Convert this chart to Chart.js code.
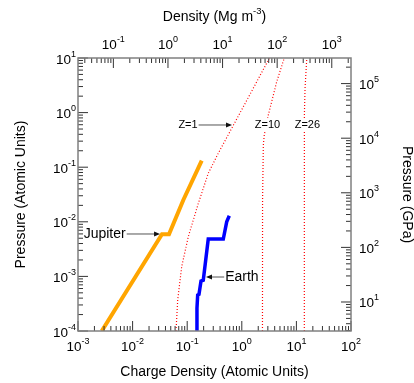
<!DOCTYPE html>
<html>
<head>
<meta charset="utf-8">
<script src="https://cdn.jsdelivr.net/npm/chart.js@4.4.1/dist/chart.umd.min.js"></script>
<style>
  html, body { margin: 0; padding: 0; background: #fff; }
  #chart { display: block; }
</style>
</head>
<body>
<canvas id="chart" width="414" height="383"></canvas>
<script>
// Values: charge density and pressure, both in atomic units
const jupiterCharge   = [0.00272, 0.0345, 0.0464, 0.0849, 0.1845];
const jupiterPressure = [1e-4, 5.9e-3, 5.9e-3, 0.0251, 0.1315];

const earthCharge   = [0.151, 0.151, 0.1556, 0.1644, 0.179, 0.197, 0.243, 0.458, 0.529, 0.590];
const earthPressure = [1e-4, 2.61e-4, 4.56e-4, 4.70e-4, 8.24e-4, 8.49e-4, 4.84e-3, 4.84e-3, 1.0e-2, 1.29e-2];

const z1Charge   = [0.0624, 0.067, 0.0793, 0.1047, 0.160, 0.243, 0.371, 0.629, 1.243, 3.21];
const z1Pressure = [1e-4, 3.70e-4, 1.51e-3, 5.33e-3, 0.0218, 0.0773, 0.180, 0.480, 1.70, 10];

const z10Charge   = [2.39, 2.40, 2.48, 2.58, 3.06, 4.36, 6.0];
const z10Pressure = [1e-4, 0.0251, 0.255, 0.389, 0.904, 3.68, 10];

const z26Charge   = [13.97, 14.0, 14.4, 15.5];
const z26Pressure = [1e-4, 0.90, 2.79, 10];

// axis ranges and major ticks
const chargeRange   = [1e-3, 1e2];
const pressureRange = [1e-4, 1e1];
const chargeTicks   = [1e-3, 1e-2, 1e-1, 1, 10, 100];
const pressureTicks = [1e-4, 1e-3, 1e-2, 1e-1, 1, 10];
const densityTicks  = [0.1, 1, 10, 100, 1000];
const gpaTicks      = [10, 100, 1000, 1e4, 1e5];

// unit conversions for the secondary axes
const MG_M3_PER_AU = 22.5;    // mass density per unit charge density
const GPA_PER_AU = 29421;     // 1 atomic unit of pressure in GPa

const FONT = '"Liberation Sans", Arial, Helvetica, sans-serif';

// labels on the plot, placed in data coordinates
const notes = [
  { text: 'Z=1', size: 11, x: 0.162, y: 0.593, tipX: 0.662, tipY: 0.593, align: 'right' },
  { text: 'Z=10', size: 11, x: 2.96, y: 0.593, align: 'center', blank: true },
  { text: 'Z=26', size: 11, x: 15.9, y: 0.593, align: 'center', blank: true },
  { text: 'Jupiter', size: 14, x: 0.0078, y: 5.98e-3, tipX: 0.0318, tipY: 5.98e-3, align: 'right' },
  { text: 'Earth', size: 14, x: 0.476, y: 9.75e-4, tipX: 0.221, tipY: 9.75e-4, align: 'left' }
];

function pts(xs, ys) {
  return xs.map((x, i) => ({ x: x, y: ys[i] }));
}

function pow10Label(ctx, v, x, y, align) {
  const e = String(Math.round(Math.log10(v)));
  ctx.font = '13.5px ' + FONT;
  const w1 = ctx.measureText('10').width;
  ctx.font = '9px ' + FONT;
  const w2 = ctx.measureText(e).width;
  let x0 = x;
  if (align === 'center') x0 = x - (w1 + w2) / 2;
  else if (align === 'right') x0 = x - w1 - w2;
  ctx.textAlign = 'left';
  ctx.textBaseline = 'alphabetic';
  ctx.font = '13.5px ' + FONT;
  ctx.fillText('10', x0, y);
  ctx.font = '9px ' + FONT;
  ctx.fillText(e, x0 + w1, y - 7);
}

// minor + major tick marks pointing into the plot
function tickMarks(ctx, scale, horizontal, edge, dir) {
  const lo = Math.floor(Math.log10(scale.min));
  const hi = Math.ceil(Math.log10(scale.max));
  for (let k = lo; k <= hi; k++) {
    for (let m = 1; m <= 9; m++) {
      const v = m * Math.pow(10, k);
      if (v < scale.min * 0.999 || v > scale.max * 1.001) continue;
      const p = scale.getPixelForValue(v);
      const len = m === 1 ? 10 : 5;
      ctx.beginPath();
      if (horizontal) {
        ctx.moveTo(p, edge);
        ctx.lineTo(p, edge + dir * len);
      } else {
        ctx.moveTo(edge, p);
        ctx.lineTo(edge + dir * len, p);
      }
      ctx.stroke();
    }
  }
}

const framePlugin = {
  id: 'frame',
  afterDatasetsDraw(chart) {
    const ctx = chart.ctx;
    const a = chart.chartArea;
    const s = chart.scales;
    ctx.save();

    // annotations
    notes.forEach(n => {
      const x = s.x.getPixelForValue(n.x);
      const y = s.y.getPixelForValue(n.y);
      ctx.font = n.size + 'px ' + FONT;
      const w = ctx.measureText(n.text).width;
      let tx = x;
      if (n.align === 'right') tx = x - w - 1;
      else if (n.align === 'center') tx = x - w / 2;
      else tx = x + 1;
      if (n.blank) {
        ctx.fillStyle = '#fff';
        ctx.fillRect(tx - 1, y - n.size * 0.45 - 2, w + 2, n.size * 0.9 + 4);
      }
      ctx.fillStyle = '#000';
      ctx.textAlign = 'left';
      ctx.textBaseline = 'middle';
      ctx.fillText(n.text, tx, y);
      if (n.tipX !== undefined) {
        const px = s.x.getPixelForValue(n.tipX);
        const py = s.y.getPixelForValue(n.tipY);
        const d = px > x ? 1 : -1;
        ctx.strokeStyle = '#555';
        ctx.lineWidth = 1;
        ctx.beginPath();
        ctx.moveTo(x, y);
        ctx.lineTo(px - d * 5, py);
        ctx.stroke();
        ctx.fillStyle = '#111';
        ctx.beginPath();
        ctx.moveTo(px, py);
        ctx.lineTo(px - d * 6, py - 2.5);
        ctx.lineTo(px - d * 6, py + 2.5);
        ctx.closePath();
        ctx.fill();
      }
    });

    // ticks
    ctx.strokeStyle = '#333';
    ctx.lineWidth = 1;
    tickMarks(ctx, s.x, true, a.bottom, -1);
    tickMarks(ctx, s.x2, true, a.top, 1);
    tickMarks(ctx, s.y, false, a.left, 1);
    tickMarks(ctx, s.y2, false, a.right, -1);

    // box
    ctx.strokeStyle = '#808080';
    ctx.lineWidth = 1.5;
    ctx.strokeRect(a.left, a.top, a.right - a.left, a.bottom - a.top);

    // tick labels
    ctx.fillStyle = '#000';
    chargeTicks.forEach(v => pow10Label(ctx, v, s.x.getPixelForValue(v), a.bottom + 20, 'center'));
    densityTicks.forEach(v => pow10Label(ctx, v, s.x2.getPixelForValue(v), a.top - 9, 'center'));
    pressureTicks.forEach(v => pow10Label(ctx, v, a.left - 2, s.y.getPixelForValue(v) + 5.5, 'right'));
    gpaTicks.forEach(v => pow10Label(ctx, v, a.right + 8, s.y2.getPixelForValue(v) + 5.5, 'left'));

    // axis titles
    const cx = (a.left + a.right) / 2;
    const cy = (a.top + a.bottom) / 2;
    ctx.font = '14px ' + FONT;
    ctx.textBaseline = 'alphabetic';
    ctx.textAlign = 'center';
    ctx.fillText('Charge Density (Atomic Units)', cx, a.bottom + 45);

    // top title with superscript
    const t1 = 'Density (Mg m', t2 = '-3', t3 = ')';
    const w1 = ctx.measureText(t1).width, w3 = ctx.measureText(t3).width;
    ctx.font = '9.5px ' + FONT;
    const w2 = ctx.measureText(t2).width;
    let x0 = cx - (w1 + w2 + w3) / 2;
    ctx.textAlign = 'left';
    ctx.font = '14px ' + FONT;
    ctx.fillText(t1, x0, 21);
    ctx.font = '9.5px ' + FONT;
    ctx.fillText(t2, x0 + w1, 14);
    ctx.font = '14px ' + FONT;
    ctx.fillText(t3, x0 + w1 + w2, 21);

    ctx.textAlign = 'center';
    ctx.save();
    ctx.translate(25, cy);
    ctx.rotate(-Math.PI / 2);
    ctx.fillText('Pressure (Atomic Units)', 0, 0);
    ctx.restore();
    ctx.save();
    ctx.translate(403, cy);
    ctx.rotate(Math.PI / 2);
    ctx.fillText('Pressure (GPa)', 0, 0);
    ctx.restore();

    ctx.restore();
  }
};

function fixedSize(px) {
  return scale => {
    if (scale.isHorizontal()) scale.height = px;
    else scale.width = px;
  };
}

const hidden = {
  ticks: { display: false },
  grid: { display: false },
  border: { display: false }
};

const red = { borderColor: '#ff0000', borderWidth: 1.2, borderDash: [1, 2], tension: 0 };

new Chart(document.getElementById('chart'), {
  type: 'line',
  data: {
    datasets: [
      Object.assign({ label: 'Z=1', data: pts(z1Charge, z1Pressure) }, red),
      Object.assign({ label: 'Z=10', data: pts(z10Charge, z10Pressure) }, red),
      Object.assign({ label: 'Z=26', data: pts(z26Charge, z26Pressure) }, red),
      { label: 'Jupiter', data: pts(jupiterCharge, jupiterPressure), borderColor: '#ffa500', borderWidth: 4, tension: 0 },
      { label: 'Earth', data: pts(earthCharge, earthPressure), borderColor: '#0000ff', borderWidth: 3.5, tension: 0 }
    ]
  },
  options: {
    responsive: false,
    animation: false,
    layout: { padding: 0 },
    elements: { point: { radius: 0 }, line: { borderCapStyle: 'butt', borderJoinStyle: 'miter' } },
    plugins: { legend: { display: false }, tooltip: { enabled: false } },
    scales: {
      x: Object.assign({ type: 'logarithmic', position: 'bottom', min: chargeRange[0], max: chargeRange[1], afterFit: fixedSize(52) }, hidden),
      x2: Object.assign({ type: 'logarithmic', position: 'top', min: chargeRange[0] * MG_M3_PER_AU, max: chargeRange[1] * MG_M3_PER_AU, afterFit: fixedSize(58) }, hidden),
      y: Object.assign({ type: 'logarithmic', position: 'left', min: pressureRange[0], max: pressureRange[1], afterFit: fixedSize(78) }, hidden),
      y2: Object.assign({ type: 'logarithmic', position: 'right', min: pressureRange[0] * GPA_PER_AU, max: pressureRange[1] * GPA_PER_AU, afterFit: fixedSize(63) }, hidden)
    }
  },
  plugins: [framePlugin]
});
</script>
</body>
</html>
